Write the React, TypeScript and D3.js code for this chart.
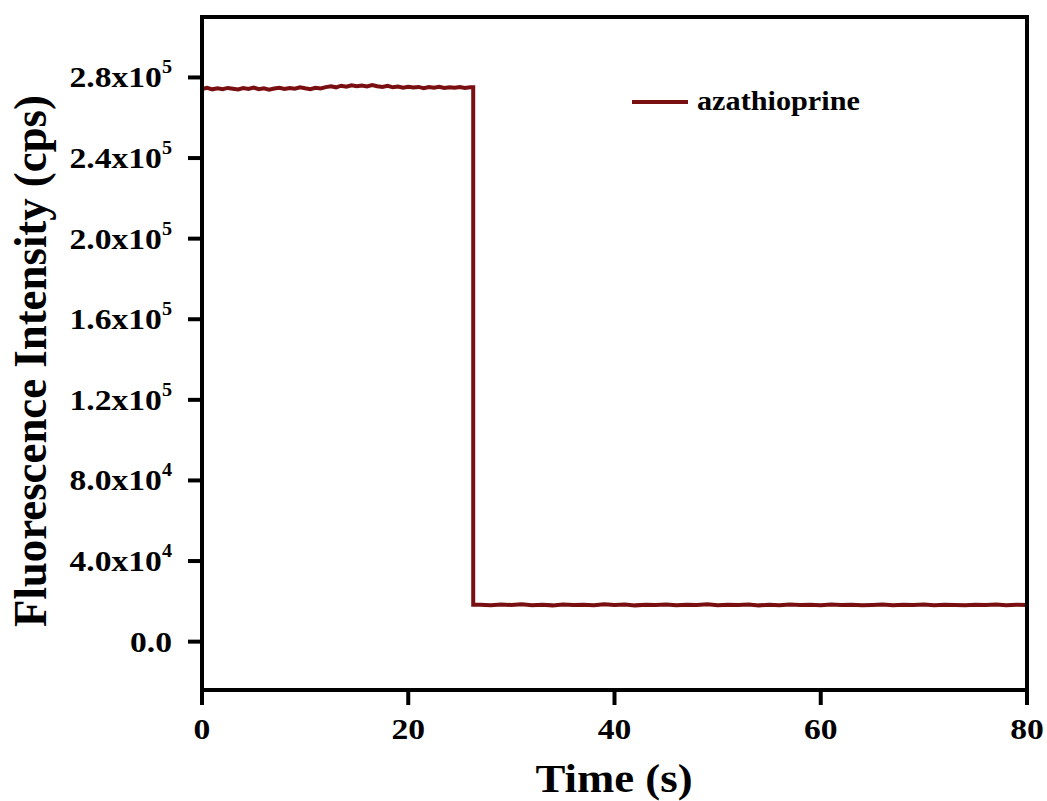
import React from "react";
import * as d3 from "d3";

// ---- data ----
const seriesName = "azathioprine";
const highStep = 0.5; // s sampling of the high plateau
const highValues = [274300, 274900, 274100, 274600, 274200, 274800, 274400, 274000, 274700, 274300, 275000, 274200, 274600, 273900, 274500, 274900, 274300, 274800, 274400, 275100, 274600, 274200, 274900, 274500, 275200, 275600, 275100, 275900, 275400, 276100, 275700, 276000, 275500, 276200, 275600, 275300, 275800, 275100, 275500, 274900, 275400, 275000, 275300, 274700, 275200, 274900, 275400, 274800, 275100, 274900, 275300, 274800, 275100];
const dropTime = 26.3;
const lowStart = 27;
const lowValues = [18300, 18100, 18400, 18200, 18500, 18100, 18300, 18000, 18400, 18200, 18300, 18100, 18500, 18200, 18400, 18000, 18300, 18200, 18400, 18100, 18300, 18200, 18500, 18100, 18300, 18200, 18400, 18000, 18300, 18100, 18400, 18200, 18300, 18100, 18400, 18200, 18300, 18000, 18200, 18400, 18100, 18300, 18200, 18400, 18100, 18300, 18200, 18000, 18300, 18200, 18400, 18100, 18300, 18200];
const xTicks = [0, 20, 40, 60, 80];
const yTicks = [0, 40000, 80000, 120000, 160000, 200000, 240000, 280000];
const yTickMantissa = ["0.0", "4.0x10", "8.0x10", "1.2x10", "1.6x10", "2.0x10", "2.4x10", "2.8x10"];
const yTickExp = ["", "4", "4", "5", "5", "5", "5", "5"];
const xDomain = [0, 80];
const yDomain = [-24000, 310000];

const FONT = "'Liberation Serif', 'Times New Roman', Times, serif";
const RED = "#7a0f12";
const SX = 1.12;

export default function App() {
  const left = 202, right = 1027, top = 17, bottom = 690;
  const x = d3.scaleLinear().domain(xDomain).range([left, right]);
  const y = d3.scaleLinear().domain(yDomain).range([bottom, top]);

  const pts: [number, number][] = [];
  highValues.forEach((v, i) => pts.push([i * highStep, v]));
  pts.push([dropTime, highValues[highValues.length - 1]]);
  pts.push([dropTime, lowValues[0]]);
  lowValues.forEach((v, i) => pts.push([lowStart + i, v]));
  const line = d3.line<[number, number]>().x(d => x(d[0])).y(d => y(d[1]));

  return (
    <svg width={1047} height={801} style={{ position: "absolute", left: 0, top: 0, background: "#fff" }}>
      <rect x={0} y={0} width={1047} height={801} fill="#fff" />
      <path d={line(pts) || ""} fill="none" stroke={RED} strokeWidth={4} strokeLinejoin="miter" />
      <rect x={left} y={top} width={right - left} height={bottom - top} fill="none" stroke="#000" strokeWidth={4} />
      {yTicks.map((t, i) => (
        <g key={"y" + i}>
          <line x1={left - 14} x2={left} y1={y(t)} y2={y(t)} stroke="#000" strokeWidth={4} />
          <g transform={`translate(172,${y(t) + 10}) scale(${SX},1)`}>
            <text x={0} y={0} textAnchor="end" fontFamily={FONT} fontWeight="bold" fontSize={30}>
              {yTickMantissa[i]}
              {yTickExp[i] && (
                <tspan fontSize={18} dy={-14}>{yTickExp[i]}</tspan>
              )}
            </text>
          </g>
        </g>
      ))}
      {xTicks.map((t, i) => (
        <g key={"x" + i}>
          <line x1={x(t)} x2={x(t)} y1={bottom} y2={bottom + 15} stroke="#000" strokeWidth={4} />
          <g transform={`translate(${x(t)},739) scale(${SX},1)`}>
            <text x={0} y={0} textAnchor="middle" fontFamily={FONT} fontWeight="bold" fontSize={30}>{t}</text>
          </g>
        </g>
      ))}
      <g transform={`translate(614,792) scale(${SX},1)`}>
        <text textAnchor="middle" fontFamily={FONT} fontWeight="bold" fontSize={40}>Time (s)</text>
      </g>
      <g transform={`translate(46,361) rotate(-90) scale(1,${SX})`}>
        <text textAnchor="middle" fontFamily={FONT} fontWeight="bold" fontSize={41} textLength={532} lengthAdjust="spacingAndGlyphs">Fluorescence Intensity (cps)</text>
      </g>
      <line x1={632} x2={688} y1={102} y2={102} stroke={RED} strokeWidth={4} />
      <g transform={`translate(697,110) scale(${SX},1)`}>
        <text fontFamily={FONT} fontWeight="bold" fontSize={27}>{seriesName}</text>
      </g>
    </svg>
  );
}
